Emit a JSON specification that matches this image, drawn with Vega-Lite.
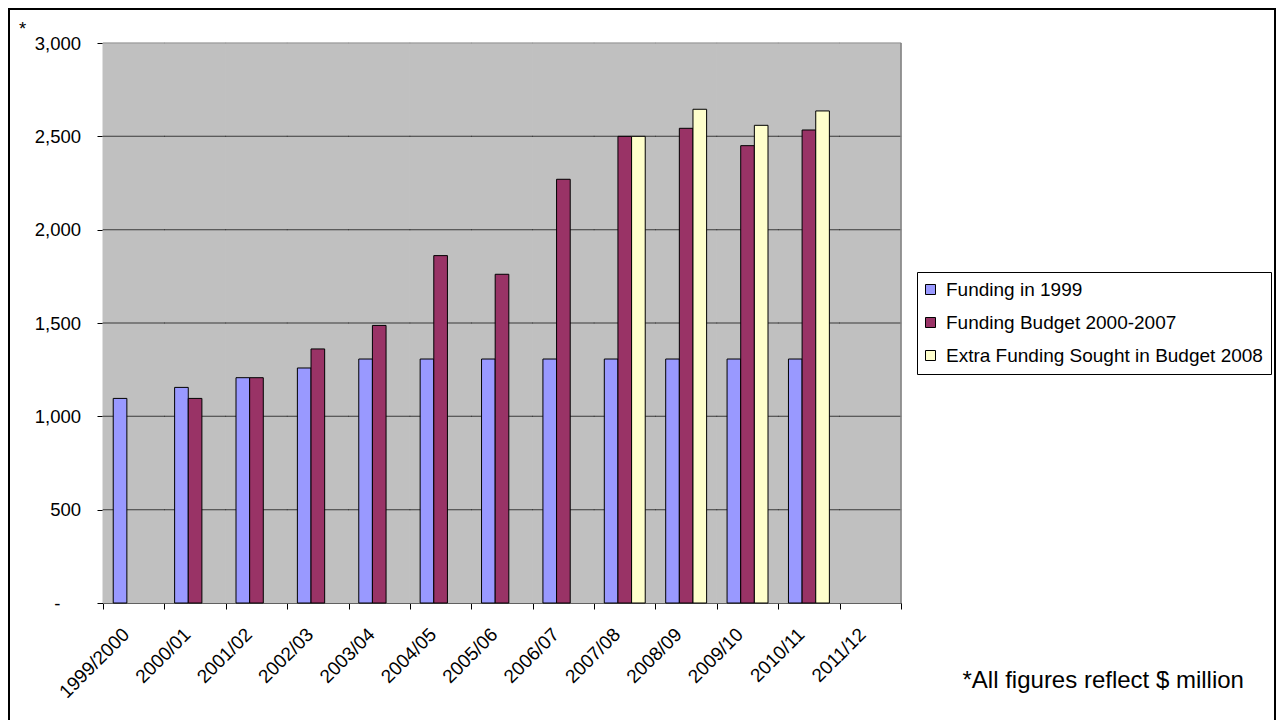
{
  "$schema": "https://vega.github.io/schema/vega-lite/v6.json",
  "width": 1266,
  "height": 716,
  "autosize": {"type": "none"},
  "padding": {"left": 9, "top": 9, "right": 6, "bottom": -5},
  "background": "white",
  "config": {
    "view": {"stroke": "black", "strokeWidth": 2, "fill": "white"},
    "font": "Liberation Sans",
    "axis": {
      "labelFont": "Liberation Sans",
      "titleFont": "Liberation Sans",
      "labelColor": "black",
      "titleColor": "black",
      "tickColor": "black",
      "domainColor": "black",
      "domainWidth": 1,
      "tickWidth": 1,
      "grid": false,
      "zindex": 1,
      "labelFontSize": 18.5,
      "titleFontWeight": "normal",
      "labelOverlap": false,
      "labelFlush": false,
      "labelBound": false
    },
    "legend": {
      "labelFont": "Liberation Sans",
      "labelFontSize": 19,
      "labelColor": "black",
      "labelLimit": 0
    }
  },
  "datasets": {
    "funding": [
      {"year": "1999/2000", "series": "Funding in 1999", "value": 1096},
      {"year": "2000/01", "series": "Funding in 1999", "value": 1155},
      {"year": "2000/01", "series": "Funding Budget 2000-2007", "value": 1096},
      {"year": "2001/02", "series": "Funding in 1999", "value": 1207},
      {"year": "2001/02", "series": "Funding Budget 2000-2007", "value": 1207},
      {"year": "2002/03", "series": "Funding in 1999", "value": 1259},
      {"year": "2002/03", "series": "Funding Budget 2000-2007", "value": 1361},
      {"year": "2003/04", "series": "Funding in 1999", "value": 1307},
      {"year": "2003/04", "series": "Funding Budget 2000-2007", "value": 1487},
      {"year": "2004/05", "series": "Funding in 1999", "value": 1307},
      {"year": "2004/05", "series": "Funding Budget 2000-2007", "value": 1861},
      {"year": "2005/06", "series": "Funding in 1999", "value": 1307},
      {"year": "2005/06", "series": "Funding Budget 2000-2007", "value": 1761},
      {"year": "2006/07", "series": "Funding in 1999", "value": 1307},
      {"year": "2006/07", "series": "Funding Budget 2000-2007", "value": 2270},
      {"year": "2007/08", "series": "Funding in 1999", "value": 1307},
      {"year": "2007/08", "series": "Funding Budget 2000-2007", "value": 2500},
      {"year": "2007/08", "series": "Extra Funding Sought in Budget 2008", "value": 2500},
      {"year": "2008/09", "series": "Funding in 1999", "value": 1307},
      {"year": "2008/09", "series": "Funding Budget 2000-2007", "value": 2543},
      {"year": "2008/09", "series": "Extra Funding Sought in Budget 2008", "value": 2645},
      {"year": "2009/10", "series": "Funding in 1999", "value": 1307},
      {"year": "2009/10", "series": "Funding Budget 2000-2007", "value": 2450},
      {"year": "2009/10", "series": "Extra Funding Sought in Budget 2008", "value": 2559},
      {"year": "2010/11", "series": "Funding in 1999", "value": 1307},
      {"year": "2010/11", "series": "Funding Budget 2000-2007", "value": 2534},
      {"year": "2010/11", "series": "Extra Funding Sought in Budget 2008", "value": 2636}
    ],
    "years": [
      {"year": "1999/2000", "levels": [500, 1000, 1500, 2000, 2500, 3000]},
      {"year": "2000/01", "levels": [500, 1000, 1500, 2000, 2500, 3000]},
      {"year": "2001/02", "levels": [500, 1000, 1500, 2000, 2500, 3000]},
      {"year": "2002/03", "levels": [500, 1000, 1500, 2000, 2500, 3000]},
      {"year": "2003/04", "levels": [500, 1000, 1500, 2000, 2500, 3000]},
      {"year": "2004/05", "levels": [500, 1000, 1500, 2000, 2500, 3000]},
      {"year": "2005/06", "levels": [500, 1000, 1500, 2000, 2500, 3000]},
      {"year": "2006/07", "levels": [500, 1000, 1500, 2000, 2500, 3000]},
      {"year": "2007/08", "levels": [500, 1000, 1500, 2000, 2500, 3000]},
      {"year": "2008/09", "levels": [500, 1000, 1500, 2000, 2500, 3000]},
      {"year": "2009/10", "levels": [500, 1000, 1500, 2000, 2500, 3000]},
      {"year": "2010/11", "levels": [500, 1000, 1500, 2000, 2500, 3000]},
      {"year": "2011/12", "levels": [500, 1000, 1500, 2000, 2500, 3000]}
    ],
    "lastYear": [{"year": "2011/12"}]
  },
  "layer": [
    {
      "data": {"name": "years"},
      "mark": {"type": "bar", "fill": "#C0C0C0", "stroke": "#C0C0C0", "strokeWidth": 1},
      "encoding": {
        "x": {"field": "year", "type": "nominal"},
        "y": {"datum": 0, "type": "quantitative"},
        "y2": {"datum": 3000}
      }
    },
    {
      "data": {"name": "years"},
      "transform": [{"flatten": ["levels"], "as": ["level"]}],
      "mark": {"type": "tick", "size": 62, "thickness": 1, "orient": "horizontal"},
      "encoding": {
        "x": {"field": "year", "type": "nominal"},
        "y": {"field": "level", "type": "quantitative"},
        "color": {
          "condition": {"test": "datum.level === 3000", "value": "#808080"},
          "value": "black"
        }
      }
    },
    {
      "data": {"name": "lastYear"},
      "mark": {"type": "rule", "color": "#808080", "strokeWidth": 1.5},
      "encoding": {
        "x": {"field": "year", "type": "nominal", "bandPosition": 1},
        "y": {"datum": 0, "type": "quantitative"},
        "y2": {"datum": 3000}
      }
    },
    {
      "data": {"name": "funding"},
      "mark": {"type": "bar", "stroke": "black", "strokeWidth": 1},
      "encoding": {
        "x": {
          "field": "year",
          "type": "nominal",
          "scale": {
            "domain": ["1999/2000", "2000/01", "2001/02", "2002/03", "2003/04", "2004/05", "2005/06", "2006/07", "2007/08", "2008/09", "2009/10", "2010/11", "2011/12"],
            "range": [94, 892],
            "paddingInner": 0,
            "paddingOuter": 0
          },
          "axis": {
            "title": "*All figures reflect $ million",
            "titleFontSize": 24,
            "titleAngle": 0,
            "titleAlign": "left",
            "titleBaseline": "alphabetic",
            "titleX": 953,
            "titleY": 84,
            "offset": -122,
            "tickBand": "extent",
            "tickSize": 6,
            "labelAngle": -45,
            "labelAlign": "right",
            "labelBaseline": "middle",
            "labelFontSize": 19,
            "labelPadding": 22,
            "labelOffset": -8
          }
        },
        "xOffset": {
          "field": "series",
          "type": "nominal",
          "scale": {
            "domain": ["Funding in 1999", "Funding Budget 2000-2007", "Extra Funding Sought in Budget 2008"],
            "paddingInner": 0,
            "paddingOuter": 0.75
          }
        },
        "y": {
          "field": "value",
          "type": "quantitative",
          "scale": {"domain": [0, 3000], "range": [594, 34], "nice": false, "zero": true},
          "axis": {
            "values": [0, 500, 1000, 1500, 2000, 2500, 3000],
            "labelExpr": "datum.value === 0 ? '-' : format(datum.value, ',')",
            "offset": -94,
            "tickSize": 6,
            "labelPadding": {"condition": {"test": "datum.value === 0", "value": 37}, "value": 16.5},
            "title": "*",
            "titleFontSize": 18.5,
            "titleAngle": 0,
            "titleAlign": "center",
            "titleBaseline": "alphabetic",
            "titleX": -81,
            "titleY": 25.5
          }
        },
        "color": {
          "field": "series",
          "type": "nominal",
          "scale": {
            "domain": ["Funding in 1999", "Funding Budget 2000-2007", "Extra Funding Sought in Budget 2008"],
            "range": ["#9999FF", "#993366", "#FFFFCC"]
          },
          "legend": {
            "title": null,
            "orient": "none",
            "legendX": 908,
            "legendY": 263,
            "symbolType": "square",
            "symbolSize": 100,
            "symbolStrokeColor": "black",
            "symbolStrokeWidth": 1,
            "symbolOffset": -4,
            "labelOffset": 6,
            "strokeColor": "black",
            "fillColor": "white",
            "padding": 8,
            "rowPadding": 13
          }
        }
      }
    }
  ]
}
